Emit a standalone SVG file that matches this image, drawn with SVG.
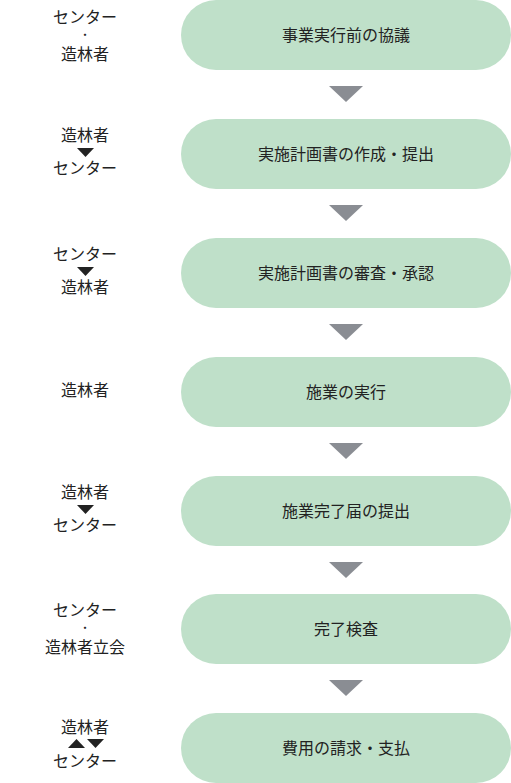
<svg xmlns="http://www.w3.org/2000/svg" width="511" height="783" viewBox="0 0 511 783">
<style>
.node{fill:#bfe0c9}
.t{font-family:"Noto Sans CJK JP","Noto Sans",sans-serif;font-size:16px;fill:#222;text-anchor:middle}
.d{font-family:"Noto Sans CJK JP","Noto Sans",sans-serif;font-size:9px;font-weight:bold;fill:#222;text-anchor:middle}
.arr{fill:#8a8d93}
.mk{fill:#222}
</style>
<rect width="511" height="783" fill="#fff"/>
<g id="connectors">
<polygon class="arr" points="329,86 363,86 346,102"/>
<polygon class="arr" points="329,205 363,205 346,221"/>
<polygon class="arr" points="329,324 363,324 346,340"/>
<polygon class="arr" points="329,443 363,443 346,459"/>
<polygon class="arr" points="329,562 363,562 346,578"/>
<polygon class="arr" points="329,680 363,680 346,696"/>
</g>
<g id="node1">
<rect class="node" x="181" y="0" width="330" height="70" rx="35"/>
<text class="t" x="346" y="41">事業実行前の協議</text>
<text class="t" x="85" y="23">センター</text>
<text class="d" x="85" y="38.4">・</text>
<text class="t" x="85" y="60">造林者</text>
</g>
<g id="node2">
<rect class="node" x="181" y="119" width="330" height="70" rx="35"/>
<text class="t" x="346" y="160">実施計画書の作成・提出</text>
<text class="t" x="85" y="141">造林者</text>
<polygon class="mk" points="77,148 94,148 85.5,157"/>
<text class="t" x="85" y="174">センター</text>
</g>
<g id="node3">
<rect class="node" x="181" y="238" width="330" height="70" rx="35"/>
<text class="t" x="346" y="279">実施計画書の審査・承認</text>
<text class="t" x="85" y="260">センター</text>
<polygon class="mk" points="77,267 94,267 85.5,276"/>
<text class="t" x="85" y="293">造林者</text>
</g>
<g id="node4">
<rect class="node" x="181" y="357" width="330" height="70" rx="35"/>
<text class="t" x="346" y="398">施業の実行</text>
<text class="t" x="85" y="396">造林者</text>
</g>
<g id="node5">
<rect class="node" x="181" y="476" width="330" height="70" rx="35"/>
<text class="t" x="346" y="517">施業完了届の提出</text>
<text class="t" x="85" y="498">造林者</text>
<polygon class="mk" points="77,505 94,505 85.5,514"/>
<text class="t" x="85" y="531">センター</text>
</g>
<g id="node6">
<rect class="node" x="181" y="594" width="330" height="70" rx="35"/>
<text class="t" x="346" y="635">完了検査</text>
<text class="t" x="85" y="616">センター</text>
<text class="d" x="85" y="631.4">・</text>
<text class="t" x="85" y="653">造林者立会</text>
</g>
<g id="node7">
<rect class="node" x="181" y="713" width="330" height="70" rx="35"/>
<text class="t" x="346" y="754">費用の請求・支払</text>
<text class="t" x="85" y="733">造林者</text>
<polygon class="mk" points="68,748 85,748 76.5,739"/>
<polygon class="mk" points="87,739 104,739 95.5,748"/>
<text class="t" x="85" y="767">センター</text>
</g>
</svg>
